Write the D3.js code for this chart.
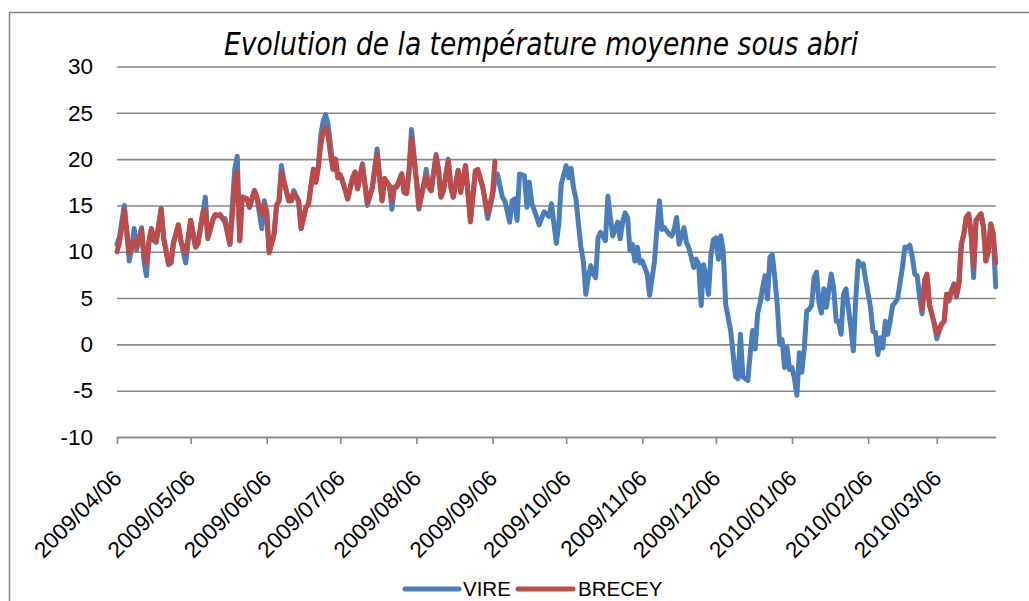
<!DOCTYPE html>
<html><head><meta charset="utf-8">
<script src="https://cdn.jsdelivr.net/npm/d3@7"></script>
<style>
html,body{margin:0;padding:0;background:#fff;}
svg{display:block;}
</style></head><body>
<svg id="chart" width="1029" height="601"></svg>
<script>
const title = "Evolution de la température moyenne sous abri";
const seriesNames = ["VIRE", "BRECEY"];
const seriesColors = ["#4a7ebb", "#be4b48"];
const startDate = "2009-04-06";
const endDate = "2010-03-30";
const tickDates = ["2009-04-06","2009-05-06","2009-06-06","2009-07-06","2009-08-06","2009-09-06",
  "2009-10-06","2009-11-06","2009-12-06","2010-01-06","2010-02-06","2010-03-06"];
const yTicks = [-10, -5, 0, 5, 10, 15, 20, 25, 30];

// [days since startDate, temperature °C]
const vire = [
[0,10.8],[1,11.6],[3,15.0],[5,9.0],[6,10.5],[7,12.5],[8,10.2],[10,12.6],[11,9.0],[12,7.4],
[13,11.0],[14,12.5],[15,11.2],[16,11.0],[18,14.7],[19,11.5],[21,8.6],[22,8.8],[23,11.0],[25,12.9],
[26,11.2],[27,10.0],[28,8.8],[30,13.4],[32,10.5],[33,10.9],[35,14.1],[36,15.9],[37,11.4],[39,13.4],
[40,14.0],[41,13.9],[42,14.0],[43,13.6],[44,13.6],[46,10.8],[47,15.0],[48,19.0],[49,20.3],[50,11.2],
[51,15.9],[53,15.7],[54,14.8],[55,15.7],[56,16.6],[57,15.9],[59,12.5],[60,15.5],[61,14.4],[62,9.9],
[64,11.9],[65,15.0],[66,15.5],[67,19.3],[68,17.6],[70,15.5],[71,15.5],[72,16.6],[74,15.5],[75,12.5],
[77,14.8],[78,15.1],[80,18.9],[81,17.5],[82,19.1],[83,22.5],[84,24.1],[85,24.8],[86,23.7],[87,21.5],
[88,18.9],[89,20.0],[90,18.0],[91,18.3],[92,17.5],[93,16.6],[94,15.7],[96,18.0],[97,18.6],[98,16.8],
[100,19.5],[101,17.3],[102,15.0],[104,16.9],[106,21.1],[107,18.0],[108,15.5],[109,17.9],[111,17.1],[112,14.6],
[113,17.0],[114,17.0],[116,18.4],[117,16.4],[118,16.3],[119,18.8],[120,23.2],[122,17.7],[123,14.6],[125,17.3],
[126,18.9],[127,17.0],[128,16.6],[130,20.5],[131,18.8],[132,15.9],[133,16.6],[135,20.0],[136,17.0],[137,15.9],
[139,18.8],[140,16.5],[142,19.3],[143,16.3],[144,13.5],[146,18.6],[147,18.8],[149,17.0],[151,13.6],[153,16.0],
[154,17.8],[155,18.4],[157,15.9],[158,15.5],[160,13.2],[161,15.5],[162,15.7],[163,13.4],[164,18.4],[166,18.2],
[167,14.8],[168,17.5],[169,15.2],[170,14.5],[172,12.9],[173,13.6],[174,14.3],[176,13.8],[177,15.2],[179,10.9],
[180,13.0],[181,17.3],[183,19.3],[184,18.0],[185,19.0],[186,16.9],[187,15.7],[188,13.0],[189,10.5],[190,9.0],
[191,5.4],[192,7.2],[193,8.5],[194,7.6],[195,7.2],[196,11.5],[197,12.1],[199,11.2],[200,16.0],[201,13.7],
[202,11.7],[204,13.2],[205,11.4],[206,13.2],[207,14.2],[208,13.7],[209,10.1],[210,10.8],[211,9.0],[212,10.5],
[213,8.8],[214,9.0],[216,7.6],[217,5.3],[219,9.0],[220,12.6],[221,15.5],[222,12.4],[223,12.6],[225,11.9],
[226,11.7],[227,12.4],[228,13.7],[229,10.8],[231,12.6],[232,11.0],[233,10.4],[234,9.4],[235,8.3],[236,9.2],
[237,8.6],[238,4.2],[239,8.6],[240,7.2],[241,5.4],[242,9.7],[243,11.3],[244,11.5],[245,9.2],[246,11.7],
[247,10.1],[248,4.3],[249,2.9],[250,1.5],[251,-1.0],[252,-3.5],[253,-3.7],[254,1.1],[255,-3.5],[257,-3.9],
[258,-1.0],[259,1.5],[260,-0.5],[261,3.3],[262,4.5],[263,6.0],[264,7.4],[265,4.9],[266,9.4],[267,9.7],
[268,7.2],[269,4.3],[270,0.0],[271,0.5],[272,-2.5],[273,-0.3],[274,-2.7],[275,-2.5],[276,-3.7],[277,-5.5],
[278,-0.9],[279,-3.0],[280,-0.5],[281,3.6],[282,3.8],[283,4.2],[284,7.2],[285,7.8],[286,4.5],[287,3.4],
[288,6.0],[289,4.0],[291,7.6],[292,6.1],[293,2.5],[294,2.5],[295,1.1],[296,5.4],[297,6.0],[299,1.8],
[300,-0.7],[301,5.0],[302,9.0],[303,8.5],[304,8.7],[305,7.0],[307,4.0],[308,1.4],[309,1.3],[310,-1.1],
[311,0.7],[312,-0.4],[313,2.5],[314,1.1],[315,2.5],[316,4.2],[317,4.5],[318,4.9],[320,8.3],[321,10.5],
[322,10.4],[323,10.7],[324,9.5],[325,7.6],[326,7.4],[327,5.1],[328,3.3],[329,6.5],[330,7.3],[331,4.3],
[333,2.2],[334,0.6],[336,2.2],[337,2.5],[338,5.4],[339,4.7],[340,5.8],[341,6.5],[342,5.1],[343,6.5],
[344,10.8],[345,11.9],[346,13.7],[347,14.1],[348,11.9],[349,7.2],[350,13.4],[352,14.1],[353,12.7],[354,9.0],
[355,10.1],[356,13.0],[357,11.9],[358,6.2]
];

// null = no measurement (gap in the series)
const brecey = [
[0,10.0],[1,11.0],[3,14.5],[5,9.8],[6,10.3],[7,11.2],[8,10.5],[10,12.4],[11,9.8],[12,8.8],
[13,11.0],[14,12.5],[15,11.3],[16,11.2],[18,14.6],[19,11.5],[21,8.7],[22,8.8],[23,10.9],[25,12.9],
[26,11.2],[27,10.5],[28,9.8],[30,13.4],[32,10.5],[33,10.9],[35,14.3],[36,14.5],[37,11.6],[39,13.4],
[40,14.0],[41,13.9],[42,14.0],[43,13.6],[44,13.2],[46,10.8],[47,14.0],[48,17.5],[49,18.7],[50,11.2],
[51,15.9],[53,15.7],[54,14.8],[55,15.7],[56,16.6],[57,15.9],[59,14.0],[60,15.0],[61,14.0],[62,9.9],
[64,11.9],[65,15.0],[66,15.5],[67,18.5],[68,17.6],[70,15.5],[71,15.5],[72,16.3],[74,15.5],[75,12.5],
[77,14.8],[78,15.1],[80,18.9],[81,17.5],[82,19.1],[83,21.5],[84,23.0],[85,23.4],[86,22.5],[87,20.5],
[88,18.9],[89,20.0],[90,18.0],[91,18.3],[92,17.5],[93,16.6],[94,15.7],[96,18.0],[97,18.6],[98,16.8],
[100,19.3],[101,17.3],[102,15.3],[104,16.9],[106,20.5],[107,18.0],[108,15.5],[109,17.9],[111,17.1],[112,15.5],
[113,17.0],[114,17.0],[116,18.4],[117,16.4],[118,16.3],[119,18.8],[120,22.3],[122,17.7],[123,14.8],[125,17.3],
[126,18.2],[127,17.0],[128,16.6],[130,20.3],[131,18.8],[132,15.9],[133,16.6],[135,19.8],[136,17.0],[137,15.9],
[139,18.75],[140,16.4],[142,19.3],[143,16.3],[144,13.2],[146,18.75],[147,18.9],[149,17.0],[151,14.1],[153,16.3],
[154,19.8],[155,null],
[328,3.8],[329,6.9],[330,7.6],[331,4.3],[333,2.2],[334,1.2],[336,2.2],[337,2.5],[338,5.4],[339,4.9],
[340,5.8],[341,6.5],[342,5.3],[343,6.5],[344,10.8],[345,11.9],[346,13.7],[347,14.0],[348,11.9],[349,8.3],
[350,13.4],[352,14.1],[353,12.7],[354,9.0],[355,10.1],[356,13.0],[357,11.9],[358,8.8]
];

const FONT = "'Liberation Sans', Arial, sans-serif";
const svg = d3.select("#chart");
const parse = d3.utcParse("%Y-%m-%d");
const t0 = parse(startDate);
const toDate = d => d3.utcDay.offset(t0, d);

const x = d3.scaleUtc().domain([t0, parse(endDate)]).range([117, 995.7]);
const y = d3.scaleLinear().domain([-10, 30]).range([437, 66.5]);

// outer frame
svg.append("rect").attr("x", 9.5).attr("y", 12.5).attr("width", 1040).attr("height", 620)
  .attr("fill", "none").attr("stroke", "#8a8a8a").attr("stroke-width", 1.6);

// title
svg.append("text").attr("x", 541).attr("y", 55).attr("text-anchor", "middle")
  .style("font-family", "'Liberation Sans Narrow','DejaVu Sans Condensed','Liberation Sans',sans-serif")
  .style("font-style", "italic").style("font-size", "32px").style("font-weight", "500").attr("fill", "#000")
  .attr("textLength", 634).attr("lengthAdjust", "spacingAndGlyphs")
  .text(title);

// y axis with gridlines
const yAxis = svg.append("g").attr("transform", "translate(117,0)")
  .call(d3.axisLeft(y).tickValues(yTicks).tickSize(-(995.7 - 117)).tickPadding(24).tickFormat(d => String(d)));
yAxis.select(".domain").remove();
yAxis.selectAll(".tick line").attr("stroke", "#878787").attr("stroke-width", 1.6);
yAxis.selectAll(".tick text").style("font-family", FONT).style("font-size", "22.5px").attr("fill", "#000");

// x axis
const xAxis = svg.append("g").attr("transform", "translate(0,437)")
  .call(d3.axisBottom(x).tickValues(tickDates.map(parse)).tickSize(7).tickSizeOuter(0)
    .tickFormat(d3.utcFormat("%Y/%m/%d")));
xAxis.select(".domain").attr("stroke", "#878787").attr("stroke-width", 1.6);
xAxis.selectAll(".tick line").attr("stroke", "#878787").attr("stroke-width", 1.6);
xAxis.selectAll(".tick text")
  .style("font-family", FONT).style("font-size", "22.5px").attr("fill", "#000")
  .attr("text-anchor", "end").attr("x", 0).attr("y", 0).attr("dy", "0.35em")
  .attr("transform", "translate(0,37) rotate(-45)");

// lines
const line = d3.line()
  .defined(d => d[1] != null)
  .x(d => x(toDate(d[0])))
  .y(d => y(d[1]));

[vire, brecey].forEach((data, i) => {
  svg.append("path").datum(data)
    .attr("fill", "none").attr("stroke", seriesColors[i]).attr("stroke-width", 5)
    .attr("stroke-linejoin", "round").attr("stroke-linecap", "round")
    .attr("d", line);
});

// legend
const legendItems = [{x1: 405, x2: 459, tx: 463}, {x1: 518, x2: 573, tx: 578}];
legendItems.forEach((it, i) => {
  svg.append("line").attr("x1", it.x1).attr("x2", it.x2).attr("y1", 589).attr("y2", 589)
    .attr("stroke", seriesColors[i]).attr("stroke-width", 5).attr("stroke-linecap", "round");
  svg.append("text").attr("x", it.tx).attr("y", 596)
    .style("font-family", FONT).style("font-size", "20.5px").attr("fill", "#000")
    .text(seriesNames[i]);
});
</script>
</body></html>
